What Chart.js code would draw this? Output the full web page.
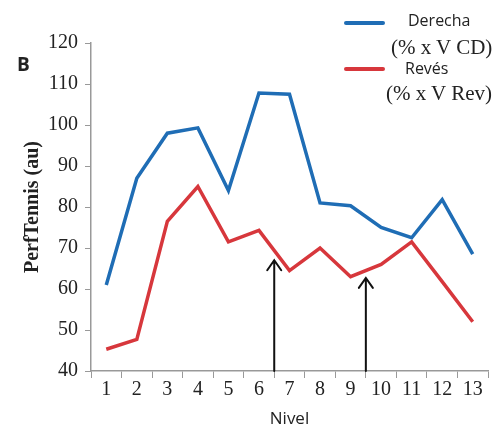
<!DOCTYPE html>
<html>
<head>
<meta charset="utf-8">
<script src="https://cdn.jsdelivr.net/npm/chart.js@4"></script>
<style>
  html, body { margin: 0; padding: 0; background: #fff; }
  #wrap { position: relative; width: 499px; height: 430px; }
  canvas { position: absolute; left: 0; top: 0; }
  .lg { position: absolute; white-space: nowrap; line-height: 1; }
  .sw { position: absolute; height: 4px; border-radius: 2px; }
</style>
</head>
<body>
<div id="wrap">
  <canvas id="c" width="499" height="430"></canvas>
  <div class="lg" style="left:17px;top:51px;font:bold 19px 'Open Sans',sans-serif;color:#222;">B</div>
  <div class="sw" style="left:344px;top:21px;width:41px;background:#1f6db5;"></div>
  <div class="lg" style="left:408px;top:9px;font:16px 'Open Sans',sans-serif;color:#222;">Derecha</div>
  <div class="lg" style="left:391px;top:35px;font:21px 'Liberation Serif',serif;color:#222;">(% x V CD)</div>
  <div class="sw" style="left:344px;top:67px;width:41px;background:#d7373c;"></div>
  <div class="lg" style="left:405px;top:57px;font:16px 'Open Sans',sans-serif;color:#222;">Revés</div>
  <div class="lg" style="left:386px;top:81px;font:21px 'Liberation Serif',serif;color:#222;">(% x V Rev)</div>
</div>
<script>
const categories = ['1','2','3','4','5','6','7','8','9','10','11','12','13'];
const derecha = [61, 87, 98, 99.3, 84, 107.8, 107.5, 81, 80.3, 75, 72.5, 81.8, 68.5];
const reves   = [45.3, 47.7, 76.5, 85, 71.5, 74.3, 64.5, 70, 63, 66, 71.5, 61.8, 52];
const yTicks  = [40, 50, 60, 70, 80, 90, 100, 110, 120];
// arrows: position between categories (index units) and tip value
const arrowPos = [5.5, 8.5];
const arrowTip = [67, 62.7];

const arrowPlugin = {
  id: 'arrows',
  afterDatasetsDraw(chart) {
    const ctx = chart.ctx, xs = chart.scales.x, ys = chart.scales.y;
    ctx.save();
    ctx.strokeStyle = '#111';
    ctx.lineWidth = 2;
    ctx.lineCap = 'round';
    arrowPos.forEach((p, i) => {
      const x = xs.getPixelForValue(p);
      const y0 = ys.getPixelForValue(40);
      const y1 = ys.getPixelForValue(arrowTip[i]);
      ctx.beginPath();
      ctx.moveTo(x, y0); ctx.lineTo(x, y1);
      ctx.moveTo(x - 7, y1 + 10); ctx.lineTo(x, y1); ctx.lineTo(x + 7, y1 + 10);
      ctx.stroke();
    });
    ctx.restore();
  }
};

new Chart(document.getElementById('c'), {
  type: 'line',
  data: {
    labels: categories,
    datasets: [
      { label: 'Derecha (% x V CD)', data: derecha, borderColor: '#1f6db5', borderWidth: 3.5, pointRadius: 0, tension: 0, fill: false },
      { label: 'Revés (% x V Rev)', data: reves, borderColor: '#d7373c', borderWidth: 3.5, pointRadius: 0, tension: 0, fill: false }
    ]
  },
  options: {
    responsive: false,
    animation: false,
    devicePixelRatio: 1,
    layout: { padding: { top: 43, right: 11, left: 0, bottom: 0 } },
    plugins: { legend: { display: false }, tooltip: { enabled: false } },
    scales: {
      x: {
        offset: true,
        grid: { display: true, drawOnChartArea: false, offset: true, tickLength: 7, color: '#999' },
        border: { color: '#999', width: 1.5 },
        ticks: { color: '#222', font: { family: 'Liberation Serif', size: 20 }, padding: 0, maxRotation: 0, autoSkip: false },
        title: { display: true, text: 'Nivel', color: '#222', font: { family: 'Open Sans', size: 17 }, padding: { top: 0, bottom: 1 } },
        afterFit(s) { s.height = 59; }
      },
      y: {
        min: 40, max: 120,
        afterBuildTicks(s) { s.ticks = yTicks.map(v => ({ value: v })); },
        grid: { display: true, drawOnChartArea: false, tickLength: 6, color: '#999' },
        border: { color: '#999', width: 1.5 },
        ticks: { color: '#222', font: { family: 'Liberation Serif', size: 20 }, padding: 7 },
        title: { display: true, text: 'PerfTennis (au)', color: '#222', font: { family: 'Liberation Serif', size: 20, weight: 'bold' }, padding: { top: 21, bottom: 0 } },
        afterFit(s) { s.width = 91; }
      }
    }
  },
  plugins: [arrowPlugin]
});
</script>
</body>
</html>
